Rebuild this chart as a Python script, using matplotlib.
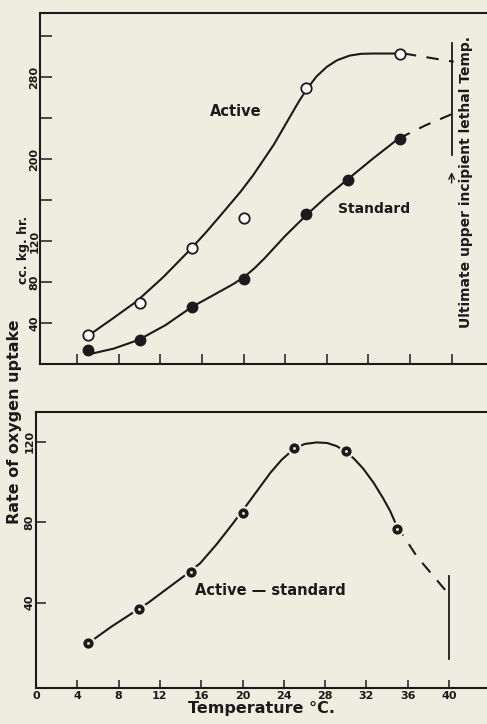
import matplotlib
matplotlib.use("Agg")
import matplotlib.pyplot as plt

# --- data ---
# top panel: oxygen uptake (cc/kg/hr) against temperature (deg C)
active_temp = [5, 10, 15, 20, 26, 35]
active_rate = [28, 60, 113.5, 142.7, 269, 303]
standard_temp = [5, 10, 15, 20, 26, 30, 35]
standard_rate = [14, 23, 56, 82.6, 146, 180, 220]

# hand-drawn smooth curves
active_curve_t = [5.4, 7.5, 9.7, 12.3, 14.9, 16.3, 17.7, 19.7, 20.9, 22.9,
                  24.5, 25.3, 26.1, 27.0, 28.0, 29.0, 30.2, 31.3, 32.5, 35.4]
active_curve_v = [30, 45, 61, 85, 112, 127.5, 144, 168, 184, 214,
                  242, 256, 268.5, 280.5, 290, 296.5, 301, 302.7, 303, 303]
standard_curve_t = [4.9, 7.5, 9.9, 12.5, 15.0, 17.5, 19.0, 20.0, 21.0, 22.0,
                    24.0, 26.1, 28.0, 30.1, 32.5, 34.9]
standard_curve_v = [9, 15, 23.5, 38, 55.5, 69.5, 78, 84.5, 93, 103,
                    125, 146, 163.5, 181, 201, 220]
active_dash_t = [35.4, 40.2]
active_dash_v = [303, 295]
standard_dash_t = [34.9, 37.5, 40.2]
standard_dash_v = [220, 233, 244.6]

# bottom panel: active minus standard
diff_temp = [5, 10, 15, 20, 25, 30, 35]
diff_rate = [20, 37, 55, 84.3, 116.6, 115.4, 76.5]
diff_curve_t = [5.4, 7.3, 9.1, 10.9, 12.6, 14.3, 15.9, 17.5, 19.1, 20.7,
                22.7, 23.8, 24.9, 26.0, 27.2, 28.2, 29.1, 29.9, 30.8, 31.7,
                32.7, 33.6, 34.3, 34.9]
diff_curve_v = [21, 28, 34, 40, 46.5, 53, 59.5, 69, 79.5, 90.5,
                104.5, 111, 116, 118.8, 119.6, 119.3, 117.8, 115.4, 111.5, 106.5,
                99.5, 92, 85.5, 78.5]
diff_dash_t = [34.9, 36.9, 39.9]
diff_dash_v = [78.5, 62.8, 44.6]

top_yticks = [40, 80, 120, 160, 200, 240, 280, 320]
top_ylabels = ["40", "80", "120", "", "200", "", "280", ""]
xticks = [4, 8, 12, 16, 20, 24, 28, 32, 36, 40]
bottom_xticks = [0] + xticks
bottom_yticks = [40, 80, 120]

INK = "#1b1b1b"
PAPER = "#eeeddf"
plt.rcParams["font.family"] = ["DejaVu Sans"]
plt.rcParams["font.weight"] = "bold"
plt.rcParams["axes.labelweight"] = "bold"

fig = plt.figure(figsize=(4.87, 7.24), dpi=100, facecolor=PAPER)

# --- top panel ---
ax1 = fig.add_axes([40 / 487, 0.4972, 447 / 487, 0.4855])
ax1.set_facecolor(PAPER)
ax1.plot(active_curve_t, active_curve_v, color=INK, lw=1.5)
ax1.plot(standard_curve_t, standard_curve_v, color=INK, lw=1.5)
ax1.plot(active_dash_t, active_dash_v, color=INK, lw=1.5, dashes=(6, 5))
ax1.plot(standard_dash_t, standard_dash_v, color=INK, lw=1.5, dashes=(6, 5))
ax1.plot(active_temp, active_rate, "o", ms=7.5, mfc="white", mec=INK, mew=1.3)
ax1.plot(standard_temp, standard_rate, "o", ms=7.5, mfc=INK, mec=INK)

ax1.plot([40, 40], [204, 313], color=INK, lw=1.3)
ax1.annotate("", xy=(40, 190), xytext=(40, 174),
             arrowprops=dict(arrowstyle="->", color=INK, lw=1))
ax1.text(41.4, 178, "Ultimate upper incipient lethal Temp.", rotation=90,
         ha="center", va="center", fontsize=10, color=INK)
ax1.text(19.2, 246, "Active", ha="center", va="center", fontsize=10.5, color=INK)
ax1.text(32.5, 151, "Standard", ha="center", va="center", fontsize=10, color=INK)

ax1.set_xlim(0.43, 43.4)
ax1.set_ylim(0, 343)
ax1.set_xticks(xticks)
ax1.set_xticklabels([])
ax1.set_yticks(top_yticks)
ax1.set_yticklabels(top_ylabels, rotation=90, va="center", fontsize=8)
ax1.tick_params(axis="x", direction="in", length=7, width=1.1, color=INK)
ax1.tick_params(axis="y", direction="in", length=8.5, width=1.1, color=INK,
                pad=0.5, labelcolor=INK)

# --- bottom panel ---
ax2 = fig.add_axes([36 / 487, 0.0497, 451 / 487, 0.3812])
ax2.set_facecolor(PAPER)
ax2.plot(diff_curve_t, diff_curve_v, color=INK, lw=1.5)
ax2.plot(diff_dash_t, diff_dash_v, color=INK, lw=1.5, dashes=(6, 5))
ax2.plot(diff_temp, diff_rate, "o", ms=9, mfc=INK, mec=PAPER, mew=1.6)
ax2.plot(diff_temp, diff_rate, "o", ms=2.2, mfc="#d8d8cc", mec="none")
ax2.plot([40, 40], [12, 53], color=INK, lw=1.3)
ax2.text(22.7, 46, "Active \u2014 standard", ha="center", va="center",
         fontsize=10.5, color=INK)

ax2.set_xlim(0, 43.68)
ax2.set_ylim(-2.5, 134.7)
ax2.set_xticks(bottom_xticks)
ax2.set_xticklabels([str(t) for t in bottom_xticks], fontsize=8)
ax2.set_yticks(bottom_yticks)
ax2.set_yticklabels([str(t) for t in bottom_yticks], rotation=90, va="center",
                    fontsize=8)
ax2.tick_params(axis="x", direction="in", length=6, width=1.1, color=INK,
                pad=2, labelcolor=INK)
ax2.tick_params(axis="y", direction="in", length=7, width=1.1, color=INK,
                pad=1, labelcolor=INK)
ax2.set_xlabel("Temperature \u00b0C.", fontsize=11.5, color=INK, labelpad=0)

for ax in (ax1, ax2):
    ax.spines["right"].set_visible(False)
    for s in ("left", "bottom", "top"):
        ax.spines[s].set_color(INK)
        ax.spines[s].set_linewidth(1.5)

fig.text(15 / 487, 1 - 422 / 724, "Rate of oxygen uptake", rotation=90,
         ha="center", va="center", fontsize=11.5, color=INK)
fig.text(24 / 487, 1 - 250 / 724, "cc. kg. hr.", rotation=90,
         ha="center", va="center", fontsize=9, color=INK)

fig.savefig("out.png", dpi=100, facecolor=PAPER)
